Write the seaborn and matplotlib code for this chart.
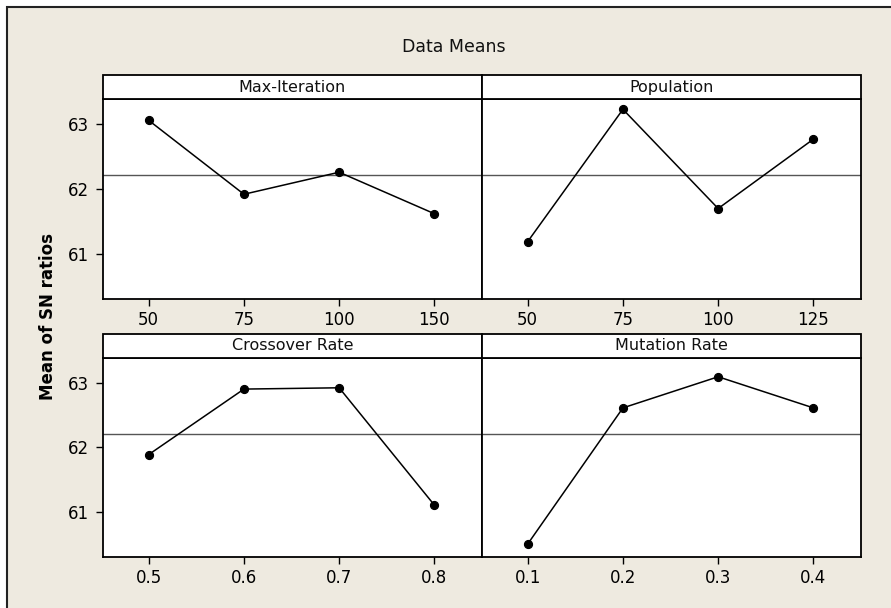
"""
Main effects plot for SN ratios (data means) of the GA parameters.
"""
import numpy as np
import pandas as pd
import matplotlib
matplotlib.use('Agg')
import matplotlib.pyplot as plt
from matplotlib.patches import Rectangle
import seaborn as sns

# Factor names and levels
factors = ['Max-Iteration', 'Population', 'Crossover Rate', 'Mutation Rate']
max_iter_levels = ['50', '75', '100', '150']
population_levels = ['50', '75', '100', '125']
crossover_levels = ['0.5', '0.6', '0.7', '0.8']
mutation_levels = ['0.1', '0.2', '0.3', '0.4']

# Mean of SN ratios per level
max_iter_sn = [63.06, 61.92, 62.26, 61.62]
population_sn = [61.19, 63.23, 61.70, 62.77]
crossover_sn = [61.89, 62.90, 62.92, 61.11]
mutation_sn = [60.51, 62.61, 63.09, 62.61]

yticks = [61, 62, 63]

levels = [max_iter_levels, population_levels, crossover_levels, mutation_levels]
values = [max_iter_sn, population_sn, crossover_sn, mutation_sn]

df = pd.concat([
    pd.DataFrame({'factor': f, 'level': lv, 'sn': v})
    for f, lv, v in zip(factors, levels, values)
], ignore_index=True)
grand_mean = df['sn'].mean()

sns.set_style('white')
plt.rcParams['font.family'] = ['DejaVu Sans']

bg = '#EEEAE0'
fig, axes = plt.subplots(2, 2, figsize=(8.91, 6.08), dpi=100,
                         gridspec_kw={'wspace': 0, 'hspace': 0.296})
fig.patch.set_facecolor('white')
fig.subplots_adjust(left=103 / 891, right=861 / 891, top=0.8367, bottom=0.0839)

# beige frame, cut off at right and bottom edges like the original
fig.patches.append(Rectangle((7 / 891, -0.5), 2.0, 1.5 - 7 / 608,
                             transform=fig.transFigure, facecolor=bg,
                             edgecolor='#222222', lw=1.5, zorder=-10))

for idx, (ax, factor) in enumerate(zip(axes.flatten(), factors)):
    sub = df[df['factor'] == factor]
    ax.set_facecolor('white')
    ax.axhline(grand_mean, color='#555555', lw=1.0, zorder=1)
    sns.pointplot(data=sub, x='level', y='sn', ax=ax, color='black',
                  markers='o', linestyles='-', markersize=5.8, linewidth=1.1,
                  errorbar=None, zorder=3)
    ax.set_xlim(-0.48, 3.5)
    ax.set_ylim(60.31, 63.385)
    ax.set_yticks(yticks)
    ax.set_xlabel('')
    ax.set_ylabel('')
    for sp in ax.spines.values():
        sp.set_visible(True)
        sp.set_color('black')
        sp.set_linewidth(1.3)
    ax.tick_params(axis='x', direction='out', length=5, width=1, pad=4,
                   labelsize=12, bottom=True, colors='black')
    if idx % 2 == 0:
        ax.tick_params(axis='y', direction='out', length=5, width=1, pad=5,
                       labelsize=12, left=True, colors='black')
    else:
        ax.tick_params(axis='y', left=False, labelleft=False)

    # facet strip
    strip_h = 0.12
    ax.add_patch(Rectangle((0, 1), 1, strip_h, transform=ax.transAxes,
                           facecolor='white', edgecolor='black', lw=1.3,
                           clip_on=False, zorder=5))
    ax.text(0.5, 1 + strip_h / 2, factor, transform=ax.transAxes,
            ha='center', va='center', fontsize=11.5, color='#111111', zorder=6)

fig.text(454 / 891, 1 - 47 / 608, 'Data Means', ha='center', va='center',
         fontsize=12.5, color='#111111')
fig.text(48 / 891, 1 - 316 / 608, 'Mean of SN ratios', ha='center', va='center',
         rotation=90, fontsize=12, fontweight='bold', color='black')

plt.savefig('out.png', dpi=100, facecolor=fig.get_facecolor())
plt.close()
